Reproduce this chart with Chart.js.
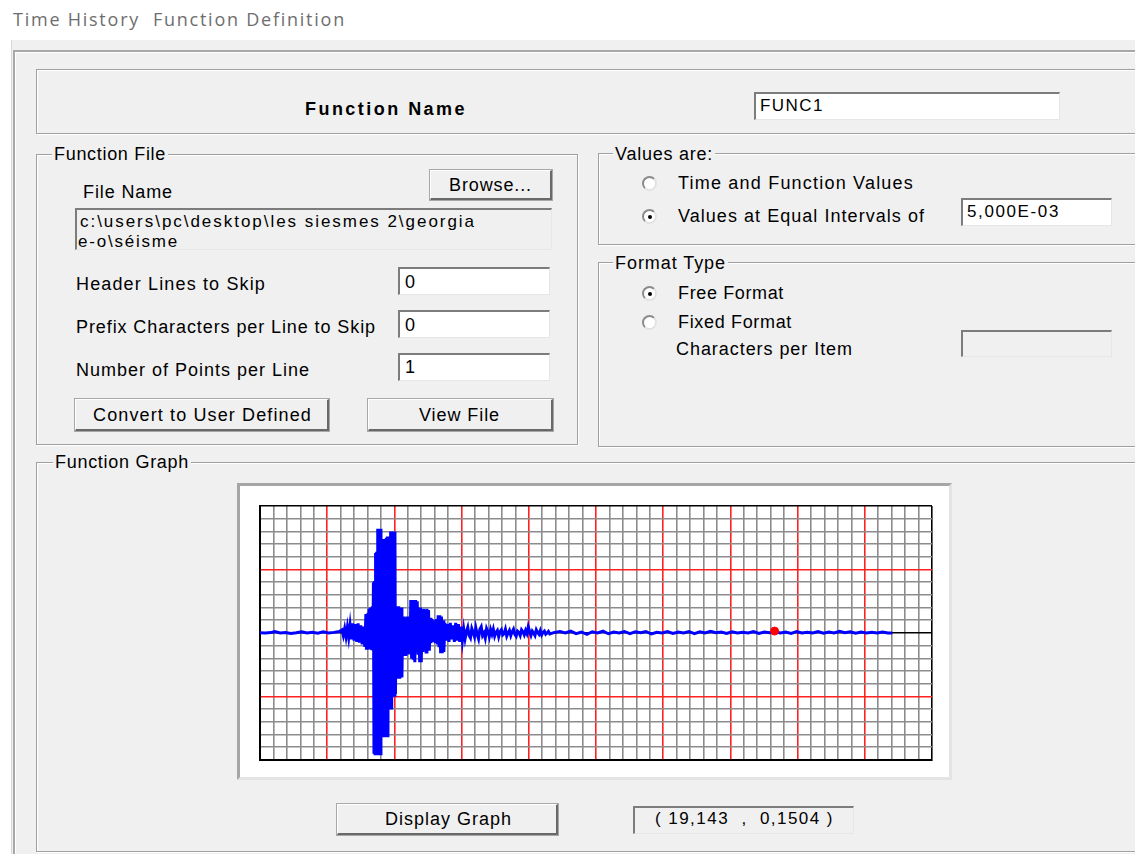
<!DOCTYPE html>
<html>
<head>
<meta charset="utf-8">
<script src="https://cdn.jsdelivr.net/npm/chart.js@4.4.1/dist/chart.umd.min.js"></script>
<style>
  body { margin: 0; width: 1135px; height: 854px; overflow: hidden; background: #fff;
         font-family: "Liberation Sans", Arial, sans-serif; font-size: 18px; color: #000; position: relative; }
  .abs { position: absolute; white-space: nowrap; }
  .txt { position: absolute; white-space: pre; line-height: 20px; }
  .panel { position: absolute; left: 11px; top: 40px; right: 0; bottom: 0; background: #f0f0f0; border-left: 1px solid #d6d6d6; }
  .frame { position: absolute; border: 1px solid #a0a0a0; box-shadow: 1px 1px 0 #fff, inset 1px 1px 0 #fff; }
  .glabel { background: #f0f0f0; padding: 0 2px; }
  .edit { position: absolute; box-sizing: border-box; background: #fff;
          border-top: 2px solid #7c7c7c; border-left: 2px solid #7c7c7c;
          border-right: 1px solid #e6e6e6; border-bottom: 1px solid #e6e6e6; }
  .btn { position: absolute; box-sizing: border-box; background: #f0f0f0;
         border-top: 1px solid #fff; border-left: 1px solid #fff;
         border-right: 2px solid #696969; border-bottom: 2px solid #696969;
         outline: 1px solid #a8a8a8; }
  .radio { position: absolute; box-sizing: border-box; width: 15px; height: 15px; border-radius: 50%;
           background: #fff; border: 2px solid; border-color: #8a8a8a #e2e2e2 #e2e2e2 #8a8a8a; }
  .radio.on::after { content: ""; position: absolute; left: 3.5px; top: 3.5px; width: 4px; height: 4px;
                     border-radius: 50%; background: #000; }
  #graphBox { position: absolute; left: 237px; top: 483px; width: 715px; height: 297px; box-sizing: border-box;
              background: #fff; border: 3px solid; border-color: #a6a6a6 #e4e4e4 #e4e4e4 #a6a6a6; }
  #chart { position: absolute; left: 255px; top: 501px; }
</style>
</head>
<body>
<div class="txt" data-w="333" style="left:13px; top:9px; color:#6e6e6e; font-family:'Open Sans',sans-serif; font-size:18px;">Time History  Function Definition</div>
<div class="panel"></div>
<div class="abs" style="left:13px; top:50px; right:0; bottom:0; border-left:2px solid #a8a8a8; border-top:2px solid #a8a8a8; box-shadow: inset 1px 1px 0 #fff;"></div>

<!-- Function Name -->
<div class="frame" style="left:36px; top:69px; width:1120px; height:63px;"></div>
<div class="txt" data-w="162" style="left:305px; top:99px; font-weight:bold;">Function Name</div>
<div class="edit" style="left:754px; top:92px; width:306px; height:28px;"></div>
<div class="txt" data-w="64" style="left:760px; top:96px; font-size:17px;">FUNC1</div>

<!-- Function File -->
<div class="frame" style="left:36px; top:154px; width:540px; height:289px;"></div>
<div class="txt glabel" data-w="116" style="left:52px; top:144px;">Function File</div>
<div class="txt" data-w="90" style="left:83px; top:182px;">File Name</div>
<div class="btn" style="left:430px; top:170px; width:122px; height:30px;"></div>
<div class="txt" data-w="83" style="left:449px; top:175px;">Browse...</div>
<div class="edit" style="left:75px; top:208px; width:477px; height:42px; background:#f0f0f0;"></div>
<div class="txt" data-w="396" style="left:80px; top:212px; font-size:17px;">c:\users\pc\desktop\les siesmes 2\georgia</div>
<div class="txt" data-w="101" style="left:78px; top:232px; font-size:17px;">e-o\séisme</div>
<div class="txt" data-w="190" style="left:76px; top:274px;">Header Lines to Skip</div>
<div class="edit" style="left:398px; top:267px; width:152px; height:28px;"></div>
<div class="txt" style="left:405px; top:272px;">0</div>
<div class="txt" data-w="300" style="left:76px; top:317px;">Prefix Characters per Line to Skip</div>
<div class="edit" style="left:398px; top:310px; width:152px; height:28px;"></div>
<div class="txt" style="left:405px; top:315px;">0</div>
<div class="txt" data-w="234" style="left:76px; top:360px;">Number of Points per Line</div>
<div class="edit" style="left:398px; top:353px; width:152px; height:28px;"></div>
<div class="txt" style="left:405px; top:357px;">1</div>
<div class="btn" style="left:75px; top:399px; width:254px; height:32px;"></div>
<div class="txt" data-w="219" style="left:93px; top:405px;">Convert to User Defined</div>
<div class="btn" style="left:368px; top:399px; width:185px; height:32px;"></div>
<div class="txt" data-w="81" style="left:419px; top:405px;">View File</div>

<!-- Values are -->
<div class="frame" style="left:598px; top:153px; width:560px; height:90px;"></div>
<div class="txt glabel" data-w="102" style="left:613px; top:144px;">Values are:</div>
<div class="radio" style="left:642px; top:176px;"></div>
<div class="txt" data-w="236" style="left:678px; top:173px;">Time and Function Values</div>
<div class="radio on" style="left:642px; top:209px;"></div>
<div class="txt" data-w="247" style="left:678px; top:206px;">Values at Equal Intervals of</div>
<div class="edit" style="left:961px; top:198px; width:151px; height:28px;"></div>
<div class="txt" data-w="93" style="left:967px; top:202px; font-size:17px;">5,000E-03</div>

<!-- Format Type -->
<div class="frame" style="left:598px; top:262px; width:560px; height:183px;"></div>
<div class="txt glabel" data-w="115" style="left:613px; top:253px;">Format Type</div>
<div class="radio on" style="left:642px; top:286px;"></div>
<div class="txt" data-w="106" style="left:678px; top:283px;">Free Format</div>
<div class="radio" style="left:642px; top:315px;"></div>
<div class="txt" data-w="114" style="left:678px; top:312px;">Fixed Format</div>
<div class="txt" data-w="177" style="left:676px; top:339px;">Characters per Item</div>
<div class="edit" style="left:961px; top:330px; width:151px; height:27px; background:#f0f0f0;"></div>

<!-- Function Graph -->
<div class="frame" style="left:36px; top:462px; width:1120px; height:388px;"></div>
<div class="txt glabel" data-w="138" style="left:53px; top:452px;">Function Graph</div>
<div id="graphBox"></div>
<canvas id="chart" width="682" height="264"></canvas>
<div class="btn" style="left:337px; top:804px; width:221px; height:31px;"></div>
<div class="txt" data-w="127" style="left:385px; top:809px;">Display Graph</div>
<div class="edit" style="left:633px; top:806px; width:221px; height:28px; background:#f0f0f0;"></div>
<div class="txt" data-w="179" style="left:655px; top:809px; font-size:17px;">( 19,143  ,  0,1504 )</div>

<script>
// time (s) of each plotted sample
const timeSec = [
  0, 0.2, 0.4, 0.55, 0.75, 0.95, 1.15, 1.35, 1.55, 1.75, 1.95, 2.15, 2.35, 2.55, 2.75, 2.95,
  3.05, 3.10, 3.15, 3.20, 3.25, 3.30, 3.35, 3.40, 3.45, 3.50, 3.55, 3.60, 3.65, 3.70, 3.75, 3.80, 3.85, 3.90,
  3.94, 3.96, 3.98, 4.00, 4.02, 4.04, 4.06, 4.08, 4.10, 4.12, 4.14, 4.16, 4.18, 4.20,
  4.22, 4.24, 4.26, 4.28, 4.30, 4.32, 4.34, 4.36, 4.38, 4.40, 4.42, 4.44, 4.46, 4.48, 4.50,
  4.52, 4.54, 4.56, 4.58, 4.60, 4.62, 4.64, 4.66, 4.68, 4.70, 4.72, 4.74, 4.76, 4.78,
  4.80, 4.82, 4.84, 4.86, 4.88, 4.90, 4.92, 4.94, 4.96, 4.98, 5.00, 5.02, 5.04,
  5.06, 5.08, 5.10, 5.12, 5.14, 5.16, 5.18, 5.20, 5.22, 5.24, 5.26, 5.28,
  5.31, 5.34, 5.37, 5.40, 5.43, 5.46, 5.49, 5.52, 5.55, 5.58,
  5.61, 5.64, 5.67, 5.70, 5.73, 5.76, 5.79, 5.82, 5.85, 5.88, 5.91, 5.94, 5.97, 6.00, 6.03,
  6.06, 6.09, 6.12, 6.15, 6.18, 6.21, 6.24, 6.27, 6.30, 6.33,
  6.36, 6.40, 6.44, 6.48, 6.52, 6.56, 6.60, 6.63, 6.66, 6.69, 6.72, 6.75, 6.78, 6.81, 6.84,
  6.88, 6.93, 6.98, 7.03, 7.08, 7.13, 7.18, 7.23, 7.28, 7.33, 7.38, 7.43, 7.48, 7.53,
  7.58, 7.63, 7.68, 7.73, 7.78, 7.83, 7.88, 7.93, 7.98, 8.03, 8.08, 8.13, 8.18, 8.23, 8.28,
  8.33, 8.38, 8.43, 8.48, 8.53, 8.58,
  8.63, 8.68, 8.73, 8.78, 8.83, 8.88, 8.93, 8.98, 9.03, 9.08, 9.13, 9.18, 9.23, 9.28, 9.33,
  9.38, 9.43, 9.48, 9.53, 9.58, 9.63, 9.68, 9.73, 9.78, 9.83, 9.88, 9.93, 9.98, 10.03, 10.08,
  10.13, 10.18, 10.23, 10.28, 10.33, 10.38, 10.43, 10.48, 10.53, 10.58, 10.63, 10.68, 10.73, 10.78,
  10.96, 11.16, 11.36, 11.56, 11.76, 11.96, 12.16, 12.36, 12.56, 12.76, 12.96,
  13.16, 13.36, 13.56, 13.76, 13.96, 14.16, 14.36, 14.56, 14.76, 14.96,
  15.16, 15.36, 15.56, 15.76, 15.96, 16.16, 16.36, 16.56, 16.76, 16.96,
  17.16, 17.36, 17.56, 17.76, 17.96, 18.16, 18.36, 18.56, 18.76, 18.96,
  19.14, 19.36, 19.56, 19.76, 19.96, 20.16, 20.36, 20.56, 20.76, 20.96,
  21.16, 21.36, 21.56, 21.76, 21.96, 22.16, 22.36, 22.56, 22.76, 22.96,
  23.16, 23.36, 23.52
];

// function value at each of those times
const accel = [
  0.02, 0.0, 0.03, 0.12, 0.0, 0.04, -0.03, 0.02, 0.10, 0.0, 0.06, -0.02, 0.10, 0.0, 0.05, 0.12,
  0.25, -0.2, 0.35, -0.3, 0.45, -0.35, 0.6, -0.5, 0.75, -0.6, 0.7, -0.7, 0.75, -0.75, 0.6, -0.9, 0.5, -1.1,
  1.5, -1.2, 1.5, -1.25, 1.6, -1.25, 1.9, -1.3, 2.0, -1.3, 2.0, -1.35, 2.1, -1.35,
  4.0, -9.5, 4.1, -9.5, 6.3, -9.5, 6.4, -9.5, 8.2, -9.5, 8.2, -9.5, 8.2, -9.5, 8.2,
  -1.4, 7.4, -1.4, 7.4, -8.2, 7.4, -8.2, 7.4, -8.2, 7.5, -8.2, 7.6, -8.2, 7.6,
  -5.9, 7.6, -5.9, 8.0, -5.9, 8.0, -4.9, 8.0, -4.9, 8.0, -4.9, 8.0, -4.8,
  2.1, -3.6, 2.1, -3.6, 2.1, -3.6, 2.0, -3.6, 2.0, -3.5, 2.0, -3.5,
  1.3, -1.6, 1.3, -1.7, 1.2, -1.6, 1.3, -1.7, 1.3, -1.6,
  2.6, -2.0, 2.6, -2.1, 2.6, -2.3, 2.6, -1.5, 2.5, -1.6, 2.0, -2.3, 2.0, -2.3, 1.9,
  -1.5, 1.9, -1.4, 1.8, -1.5, 1.9, -1.3, 1.8, -1.4, 1.2,
  -0.8, 1.1, -0.7, 1.0, -0.8, 1.1, -0.9, 1.4, -1.0, 1.4, -1.6, 1.3, -1.6, 1.0, -1.5,
  0.8, -0.6, 0.7, -0.7, 0.8, -0.5, 0.6, -0.7, 0.8, -0.6, 0.7, -0.7, 0.5, -0.6,
  0.3, -0.45, 0.1, 0.45, -0.2, -0.4, 0.35, 0.05, -0.3, 0.4, -0.1, -0.45, 0.3, 0.5, -0.2,
  0.0, -0.4, 0.35, 0.1, -0.3, 0.25,
  -0.1, 0.3, -0.25, 0.05, 0.2, -0.3, 0.1, 0.25, -0.15, -0.05, 0.3, -0.25, 0.0, 0.2, -0.2,
  0.1, 0.3, -0.1, -0.25, 0.15, 0.05, -0.2, 0.25, 0.1, -0.15, 0.2, -0.05, 0.5, 0.1, -0.2,
  0.15, 0.0, -0.2, 0.25, 0.05, -0.1, 0.2, -0.15, 0.05, 0.15, -0.1, 0.0, 0.12, -0.08,
  0.05, 0.12, 0.0, 0.15, -0.05, 0.08, -0.1, 0.10, 0.0, 0.14, -0.06,
  0.08, 0.0, 0.12, -0.05, 0.10, 0.02, 0.12, -0.08, 0.05, 0.0,
  0.12, -0.04, 0.08, 0.0, 0.12, -0.05, 0.10, 0.0, 0.14, 0.02,
  0.08, -0.04, 0.10, 0.0, 0.06, 0.0, 0.12, -0.03, 0.08, 0.02,
  0.10, 0.0, 0.08, -0.03, 0.12, 0.0, 0.06, 0.0, 0.12, -0.02,
  0.08, 0.0, 0.14, 0.02, 0.10, -0.02, 0.08, 0.0, 0.06, 0.0,
  0.08, 0.0, 0.0
];

// cursor readout point shown in red
const cursorTime = [19.143];
const cursorValue = [0.1504];

const xMin = 0, xMax = 25, xStep = 0.5, xMajor = 2.5;
const yMin = -10, yMax = 10, yStep = 1, yMajor = 5;

function isMultiple(v, step) {
  const r = Math.abs(v / step - Math.round(v / step));
  return r < 1e-6;
}

function xGridColor(ctx) {
  const v = ctx.tick.value;
  if (v <= xMin + 1e-6 || v >= xMax - 1e-6) return '#000000';
  return isMultiple(v, xMajor) ? '#ff2020' : '#8c8c8c';
}

function yGridColor(ctx) {
  const v = ctx.tick.value;
  if (Math.abs(v) < 1e-6 || v <= yMin + 1e-6 || v >= yMax - 1e-6) return '#000000';
  return isMultiple(v, yMajor) ? '#ff2020' : '#8c8c8c';
}

function renderChart() {
  const canvas = document.getElementById('chart');
  new Chart(canvas, {
    type: 'scatter',
    data: {
      datasets: [
        {
          label: 'FUNC1',
          data: timeSec.map((t, i) => ({ x: t, y: accel[i] })),
          showLine: true,
          borderColor: '#0000ff',
          borderWidth: 3,
          pointRadius: 0,
          tension: 0,
          order: 1
        },
        {
          label: 'cursor',
          data: cursorTime.map((t, i) => ({ x: t, y: cursorValue[i] })),
          pointRadius: 4,
          pointBackgroundColor: '#ff0000',
          pointBorderColor: '#ff0000',
          order: 0
        }
      ]
    },
    options: {
      responsive: false,
      animation: false,
      layout: { padding: 4 },
      plugins: { legend: { display: false }, tooltip: { enabled: false } },
      scales: {
        x: {
          type: 'linear',
          min: xMin, max: xMax,
          ticks: { display: false, stepSize: xStep },
          grid: { color: xGridColor, lineWidth: 1.6, drawTicks: false },
          border: { display: true, color: '#000', width: 2 }
        },
        y: {
          min: yMin, max: yMax,
          ticks: { display: false, stepSize: yStep },
          grid: { color: yGridColor, lineWidth: 1.6, drawTicks: false },
          border: { display: true, color: '#000', width: 2 }
        }
      }
    }
  });
}

function fitText() {
  document.querySelectorAll('[data-w]').forEach(el => {
    const target = +el.dataset.w;
    el.style.letterSpacing = '0px';
    const natural = el.getBoundingClientRect().width;
    const n = el.textContent.length;
    el.style.letterSpacing = ((target - natural) / n) + 'px';
  });
}

fitText();
renderChart();
</script>
</body>
</html>
